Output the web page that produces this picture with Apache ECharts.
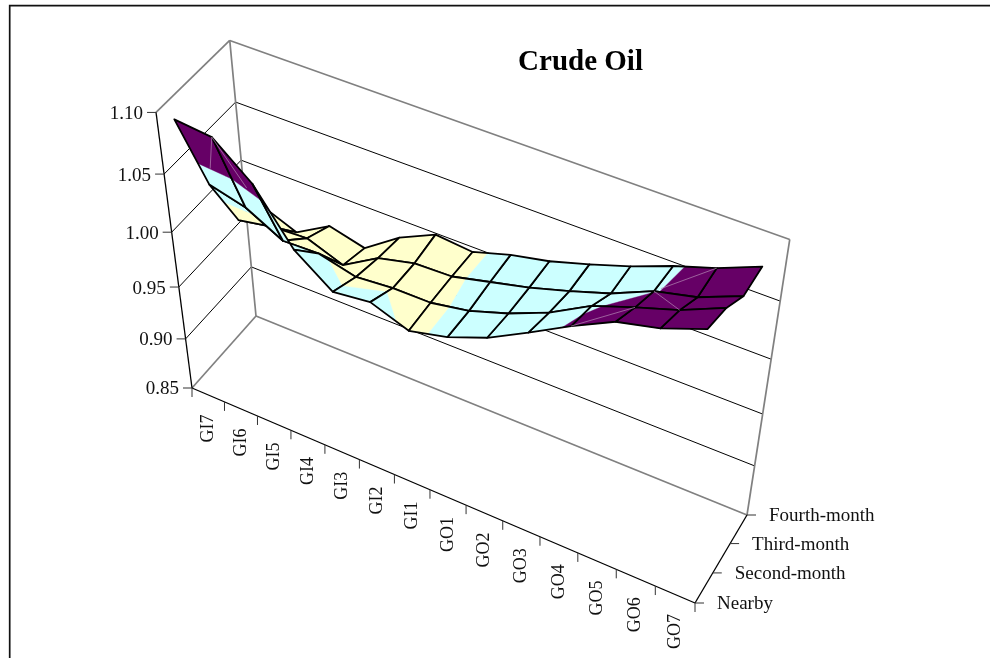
<!DOCTYPE html>
<html><head><meta charset="utf-8"><style>html,body{margin:0;background:#fff}#c{width:990px;height:658px}</style>
<script src="https://cdn.jsdelivr.net/npm/echarts@6/dist/echarts.min.js"></script></head><body><div id="c"></div>
<script>
var categories=['GI7','GI6','GI5','GI4','GI3','GI2','GI1','GO1','GO2','GO3','GO4','GO5','GO6','GO7'];
var seriesNames=['Nearby','Second-month','Third-month','Fourth-month'];
var valueTicks=[0.85,0.90,0.95,1.00,1.05,1.10];
var nearby=[1.100,1.097,1.071,1.028,1.004,1.008,0.996,1.004,1.017,1.035,1.054,1.071,1.079,1.092];
var secondMonth=[1.026,1.018,1.001,1.002,0.994,0.997,0.997,1.003,1.014,1.028,1.047,1.059,1.070,1.085];
var thirdMonth=[0.973,0.979,0.981,0.969,0.988,0.996,0.997,1.005,1.013,1.023,1.034,1.049,1.057,1.071];
var fourthMonth=[0.965,0.952,0.970,0.962,0.984,0.999,0.996,1.006,1.013,1.023,1.034,1.047,1.058,1.072];
var surface=[nearby,secondMonth,thirdMonth,fourthMonth];
var bandColors=['#FFFFCC','#CCFFFF','#660066'];
var bandLimits=[1.00,1.05];
var seams=[[1,0,0,1],[1,0,2,1],[12,3,11,2],[11,2,12,1],[11,1,10,0]];

var floor=[[192,388],[695,603],[747,515],[256,316]],VP=[454.6,2400],vMin=0.85,vMax=1.10,heightA=239,heightB=-0.1327;
function homography(q){var x0=q[0][0],y0=q[0][1],x1=q[1][0],y1=q[1][1],x2=q[2][0],y2=q[2][1],x3=q[3][0],y3=q[3][1];
 var a=x1-x2,b=x3-x2,sx=x0-x1+x2-x3,c=y1-y2,d=y3-y2,sy=y0-y1+y2-y3,den=a*d-b*c,g=(sx*d-b*sy)/den,h=(a*sy-sx*c)/den;
 return [x1-x0+g*x1,x3-x0+h*x3,x0,y1-y0+g*y1,y3-y0+h*y3,y0,g,h];}
var H=homography(floor);
function project(u,d,v){var a=u/categories.length,b=d/(seriesNames.length-1),w=H[6]*a+H[7]*b+1;
 var bx=(H[0]*a+H[1]*b+H[2])/w,by=(H[3]*a+H[4]*b+H[5])/w,t=(v-vMin)/(vMax-vMin),h=heightA*t/(1+heightB*t);
 return [bx+(bx-VP[0])*h/(VP[1]-by),by-h];}

function clip(poly,lo,hi){
 function cut(list,lim,keepAbove){var out=[];for(var i=0;i<list.length;i++){var A=list[i],B=list[(i+1)%list.length];
   var ia=keepAbove?A.v>=lim:A.v<=lim,ib=keepAbove?B.v>=lim:B.v<=lim;
   if(ia)out.push(A);
   if(ia!==ib){var t=(lim-A.v)/(B.v-A.v);out.push({p:[A.p[0]+t*(B.p[0]-A.p[0]),A.p[1]+t*(B.p[1]-A.p[1])],v:lim});}}
  return out;}
 var r=poly;if(lo!=null)r=cut(r,lo,true);if(hi!=null&&r.length)r=cut(r,hi,false);return r;}

var quads=[];
for(var d=2;d>=0;d--){var n=categories.length-1,order=[];for(var k=0;k<6;k++)order.push(k);for(k=n-1;k>=6;k--)order.push(k);
 order.forEach(function(i){quads.push([i,d]);});}

function seg(a,b,color,width){return {type:'line',shape:{x1:a[0],y1:a[1],x2:b[0],y2:b[1]},style:{stroke:color,lineWidth:width},silent:true};}

var option={animation:false,backgroundColor:'#fff',
 grid:{left:0,top:0,width:990,height:658,show:false},
 xAxis:{type:'value',min:0,max:990,show:false},
 yAxis:{type:'value',min:0,max:658,inverse:true,show:false},
 graphic:[{type:'polyline',shape:{points:[[9.7,658],[9.7,5.7],[990,5.7]]},style:{stroke:'#111',fill:null,lineWidth:1.7},silent:true}],
 title:{text:'Crude Oil',left:575.5,top:43,textAlign:'center',textStyle:{fontFamily:'"Liberation Serif"',fontSize:29,fontWeight:'bold',color:'#000'}},
 series:[
 {type:'custom',coordinateSystem:'cartesian2d',silent:true,data:[0],z:2,
  renderItem:function(params,api){var ch=[];
   function C(p){return api.coord(p);}
   function P(u,d,v){return C(project(u,d,v));}
   var nc=categories.length,ns=seriesNames.length-1,gray='#808080';
   valueTicks.forEach(function(v,k){
     if(k>0&&k<valueTicks.length-1){
      ch.push(seg(P(0,0,v),P(0,ns,v),'#000',1));
      ch.push(seg(P(0,ns,v),P(nc,ns,v),'#000',1));}
   });
   ch.push(seg(P(0,0,vMax),P(0,ns,vMax),gray,1.7));
   ch.push(seg(P(0,ns,vMax),P(nc,ns,vMax),gray,1.7));
   ch.push(seg(P(nc,ns,vMax),P(nc,ns,vMin),gray,1.7));
   ch.push(seg(P(0,ns,vMax),P(0,ns,vMin),gray,1.7));
   ch.push(seg(P(0,0,vMin),P(0,ns,vMin),gray,1.7));
   ch.push(seg(P(0,ns,vMin),P(nc,ns,vMin),gray,1.7));
   ch.push(seg(P(0,0,vMin),P(0,0,vMax),'#000',1.3));
   ch.push(seg(P(0,0,vMin),P(nc,0,vMin),'#000',1.3));
   ch.push(seg(P(nc,0,vMin),P(nc,ns,vMin),'#000',1.3));
   var font='19px "Liberation Serif"',catFont='18px "Liberation Serif"';
   valueTicks.forEach(function(v){var p=P(0,0,v);
     ch.push(seg([p[0]-9,p[1]],p,'#333',1));
     ch.push({type:'text',style:{x:p[0]-13,y:p[1]+1.5,text:v.toFixed(2),font:font,fill:'#111',align:'right',verticalAlign:'middle'},silent:true});});
   for(var i=0;i<=nc;i++){var t=P(i,0,vMin);ch.push(seg(t,[t[0],t[1]+9],'#333',1));}
   categories.forEach(function(c,i){var m=P(i+.5,0,vMin);
     ch.push({type:'text',x:m[0],y:m[1]+19.5,rotation:Math.PI/2,style:{x:0,y:0,text:c,font:catFont,fill:'#111',align:'right',verticalAlign:'middle'},silent:true});});
   seriesNames.forEach(function(c,j){var p=P(nc,j,vMin);
     ch.push(seg(p,[p[0]+9,p[1]],'#333',1));
     ch.push({type:'text',style:{x:p[0]+22,y:p[1]+1.5,text:c,font:font,fill:'#111',align:'left',verticalAlign:'middle'},silent:true});});
   quads.forEach(function(q){var i=q[0],d=q[1];
     var idx=[[i,d],[i+1,d],[i+1,d+1],[i,d+1]];
     var poly=idx.map(function(a){var v=surface[a[1]][a[0]];return {p:project(a[0]+.5,a[1],v),v:v};});
     bandColors.forEach(function(col,b){var lo=b>0?bandLimits[b-1]:null,hi=b<bandLimits.length?bandLimits[b]:null;
       var part=clip(poly,lo,hi);
       if(part.length>2)ch.push({type:'polygon',shape:{points:part.map(function(o){return C(o.p);})},style:{fill:col,stroke:col,lineWidth:0.4},silent:true});});
     ch.push({type:'polygon',shape:{points:poly.map(function(o){return C(o.p);})},style:{fill:null,stroke:'#000',lineWidth:1.8,lineJoin:'round'},silent:true});
   });
   var top=bandLimits[bandLimits.length-1];
   seams.forEach(function(s){var va=surface[s[1]][s[0]],vb=surface[s[3]][s[2]];
     var A=project(s[0]+.5,s[1],va),B=project(s[2]+.5,s[3],vb);
     if(vb<top){var t=(top-va)/(vb-va);B=[A[0]+t*(B[0]-A[0]),A[1]+t*(B[1]-A[1])];}
     ch.push(seg(C(A),C(B),'#b48ab4',0.7));});
   return {type:'group',children:ch};
  }}
 ]};
echarts.init(document.getElementById('c'),null,{renderer:'canvas'}).setOption(option);
</script></body></html>
